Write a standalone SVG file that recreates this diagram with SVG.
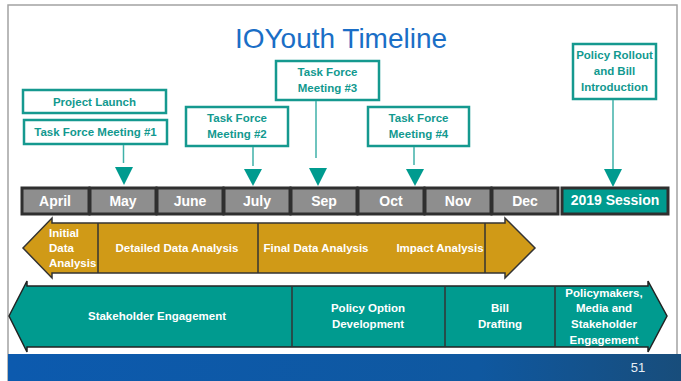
<svg xmlns="http://www.w3.org/2000/svg" width="681" height="381" viewBox="0 0 681 381">
<defs>
<linearGradient id="bar" x1="0" y1="0" x2="1" y2="0">
<stop offset="0" stop-color="#0c5aae"/>
<stop offset="0.7" stop-color="#0f58a0"/>
<stop offset="1" stop-color="#184d7b"/>
</linearGradient>
<style>
text{font-family:"Liberation Sans",Arial,sans-serif;font-weight:bold;text-anchor:middle;dominant-baseline:central}
.box{fill:#fff;stroke:#15998f;stroke-width:2.5}
.bt{fill:#12998f;font-size:11.5px}
.cell{fill:#8e8e8e;stroke:#2f2f2f;stroke-width:3}
.mt{fill:#fff;font-size:14px}
.wt{fill:#fff;font-size:11.5px}
.div{stroke:#333;stroke-width:1.5}
.lk{stroke:#3fb1a8;stroke-width:1.5}
.tri{fill:#009b8f}
</style>
</defs>
<rect width="681" height="381" fill="#fff"/>
<path d="M8 381V5H677V354" fill="none" stroke="#a3a3a3" stroke-width="1.5"/>
<rect x="8" y="354" width="673" height="27" fill="url(#bar)"/>
<text x="638" y="367" style="font-weight:normal;font-size:13px;fill:#e8eef5">51</text>
<text x="341" y="38" style="font-weight:normal;font-size:28px;fill:#1a6ec6">IOYouth Timeline</text>

<g id="months">
<rect class="cell" x="22" y="188" width="67" height="26"/>
<rect class="cell" x="90" y="188" width="66" height="26"/>
<rect class="cell" x="157" y="188" width="66" height="26"/>
<rect class="cell" x="224" y="188" width="66" height="26"/>
<rect class="cell" x="291" y="188" width="66" height="26"/>
<rect class="cell" x="358" y="188" width="66" height="26"/>
<rect class="cell" x="425" y="188" width="66" height="26"/>
<rect class="cell" x="492" y="188" width="66" height="26"/>
<text class="mt" x="55" y="201">April</text>
<text class="mt" x="123" y="201">May</text>
<text class="mt" x="190" y="201">June</text>
<text class="mt" x="257" y="201">July</text>
<text class="mt" x="324" y="201">Sep</text>
<text class="mt" x="391" y="201">Oct</text>
<text class="mt" x="458" y="201">Nov</text>
<text class="mt" x="525" y="201">Dec</text>
</g>
<g id="session">
<rect x="562" y="188" width="106" height="26" fill="#009b8f" stroke="#2f2f2f" stroke-width="3"/>
<text class="mt" x="615" y="200">2019 Session</text>
</g>

<g id="analysis">
<polygon points="23,248 52,218 52,223 505,223 505,218 535,248 505,278 505,273 52,273 52,278" fill="#d09a17" stroke="#333" stroke-width="1.5" stroke-linejoin="miter"/>
<line class="div" x1="98" y1="223" x2="98" y2="273"/>
<line class="div" x1="258" y1="223" x2="258" y2="273"/>
<line class="div" x1="485" y1="223" x2="485" y2="273"/>
<text class="wt" style="text-anchor:start"><tspan x="49" y="233">Initial</tspan><tspan x="49" y="248">Data</tspan><tspan x="49" y="263">Analysis</tspan></text>
<text class="wt" x="177" y="248">Detailed Data Analysis</text>
<text class="wt" x="316" y="248">Final Data Analysis</text>
<text class="wt" x="440" y="248">Impact Analysis</text>
</g>

<g id="engagement">
<polygon points="9,316 27,281 27,286 648,286 648,281 667,316 648,352 648,347 27,347 27,352" fill="#009b8f" stroke="#222" stroke-width="1.5"/>
<line class="div" x1="292" y1="286" x2="292" y2="347"/>
<line class="div" x1="445" y1="286" x2="445" y2="347"/>
<line class="div" x1="555" y1="286" x2="555" y2="347"/>
<text class="wt" x="157" y="316">Stakeholder Engagement</text>
<text class="wt"><tspan x="368" y="308">Policy Option</tspan><tspan x="368" y="324">Development</tspan></text>
<text class="wt"><tspan x="500" y="308">Bill</tspan><tspan x="500" y="324">Drafting</tspan></text>
<text class="wt"><tspan x="604" y="293">Policymakers,</tspan><tspan x="604" y="308">Media and</tspan><tspan x="604" y="324">Stakeholder</tspan><tspan x="604" y="340">Engagement</tspan></text>
</g>

<g id="project-launch">
<rect class="box" x="23" y="90" width="143" height="23"/>
<text class="bt" x="94.5" y="101.5">Project Launch</text>
</g>
<g id="tf1">
<rect class="box" x="24" y="120" width="143" height="24"/>
<text class="bt" x="95.5" y="132">Task Force Meeting #1</text>
</g>
<g id="tf2">
<rect class="box" x="186" y="107" width="102" height="39"/>
<text class="bt"><tspan x="237" y="118">Task Force</tspan><tspan x="237" y="134">Meeting #2</tspan></text>
</g>
<g id="tf3">
<rect class="box" x="276" y="61" width="103" height="39"/>
<text class="bt"><tspan x="327.5" y="72">Task Force</tspan><tspan x="327.5" y="88">Meeting #3</tspan></text>
</g>
<g id="tf4">
<rect class="box" x="368" y="107" width="101" height="39"/>
<text class="bt"><tspan x="418.5" y="118">Task Force</tspan><tspan x="418.5" y="134">Meeting #4</tspan></text>
</g>
<g id="rollout">
<rect class="box" x="573" y="44" width="83" height="55"/>
<text class="bt"><tspan x="614.5" y="55">Policy Rollout</tspan><tspan x="614.5" y="71">and Bill</tspan><tspan x="614.5" y="87">Introduction</tspan></text>
</g>

<g id="connectors">
<line class="lk" x1="123.5" y1="145" x2="123.5" y2="163"/>
<polygon class="tri" points="115,167 133,167 124,185"/>
<line class="lk" x1="253" y1="147" x2="253" y2="166"/>
<polygon class="tri" points="244,169 262,169 253,186"/>
<line class="lk" x1="316" y1="101" x2="316" y2="158"/>
<polygon class="tri" points="309,168 327,168 318,186"/>
<line class="lk" x1="414" y1="147" x2="414" y2="165"/>
<polygon class="tri" points="406,169 424,169 415,186"/>
<line class="lk" x1="613" y1="100" x2="613" y2="169"/>
<polygon class="tri" points="604,169 622,169 613,187"/>
</g>
</svg>
